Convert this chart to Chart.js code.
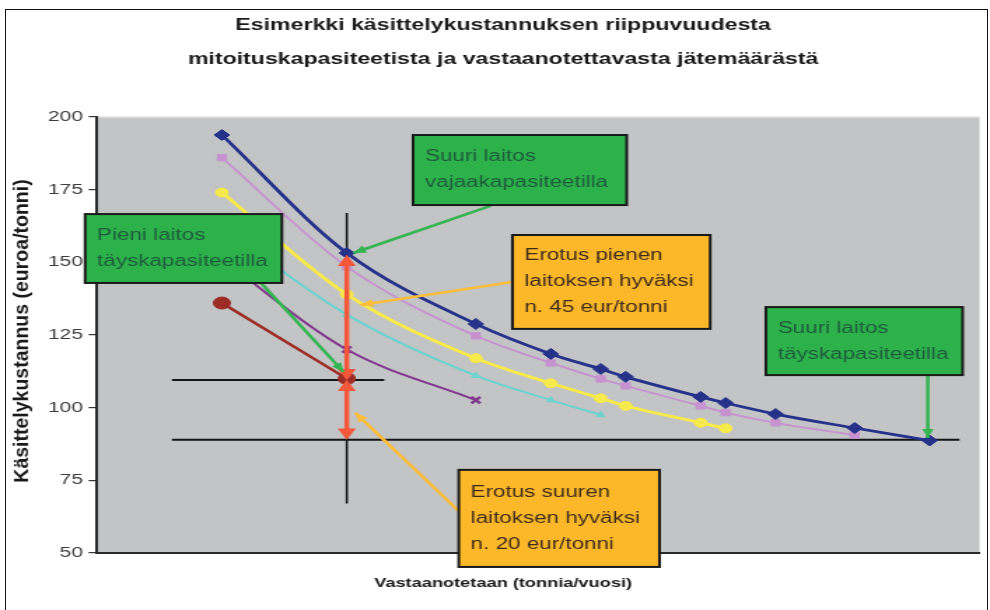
<!DOCTYPE html>
<html>
<head>
<meta charset="utf-8">
<script src="https://cdn.jsdelivr.net/npm/chart.js@4.4.1/dist/chart.umd.min.js"></script>
<style>
  html, body { margin: 0; padding: 0; background: #fff; overflow: hidden; }
  #kehys { position: absolute; left: 5px; top: 9px; width: 981px; height: 640px; border: 1px solid #111; }
  /* alkuperäinen kuva on venytetty vaakasuunnassa, joten piirretään kapeampi ja venytetään */
  #alue { position: absolute; left: 0; top: 0; width: 707px; height: 610px; transform: scaleX(1.4003); transform-origin: 0 0; }
</style>
</head>
<body>
<div id="kehys"></div>
<div id="alue"><canvas id="kaavio"></canvas></div>
<script>
//Data ---------------------------------------------------------------------
const otsikko = ['Esimerkki käsittelykustannuksen riippuvuudesta', 'mitoituskapasiteetista ja vastaanotettavasta jätemäärästä'];
const xOtsikko = 'Vastaanotetaan (tonnia/vuosi)';
const yOtsikko = 'Käsittelykustannus (euroa/tonni)';
const yTikit = [50, 75, 100, 125, 150, 175, 200];

const tonnit = [15000, 30000, 45500, 54500, 60500, 63500, 72500, 75500, 81500, 91000, 100000];
const suuri = [193.8, 153.2, 128.8, 118.5, 113.3, 110.6, 103.7, 101.6, 97.8, 93.0, 88.7];
const lila = [186, 148.5, 124.7, 115.4, 109.9, 107.5, 100.6, 98.3, 94.8, 90.6];
const keltainen = [174, 139, 117, 108.4, 103.2, 100.6, 94.8, 92.9];
const turkoosi = [162, 132, 111, 102.6, 97.5];
const violetti = [151, 120, 102.6];
const pieni = [136, 110];

// erotusnuolet kohdassa 30 000 t
const erotusX = 30000;
const erotus45 = [150, 112];
const erotus20 = [107, 91.5];

// mustat apuviivat
const ristiVaakaX = [9000, 34500];
const ristiVaakaY = 109.5;
const ristiPystyY = [67, 167];
const suuriTaysiX = [9000, 103600];
const suuriTaysiY = 89;
//--------------------------------------------------------------------------

const VENYTYS = 1.4003;
const fontti = 'Liberation Sans';
const vihrea = '#2db24b';
const oranssi = '#fdb82a';

// huomautuslaatikot (data-koordinaateissa), nuoli alkaa laatikosta ja osoittaa kohteeseen
const laatikot = [
  {rivit: ['Suuri laitos', 'vajaakapasiteetilla'], tausta: vihrea, teksti: '#1d5b3b', viiva: '#35b552',
   x1: 37960, x2: 63620, y1: 193.8, y2: 169.7, nuoli: [47270, 169.4, 30800, 153.2]},
  {rivit: ['Pieni laitos', 'täyskapasiteetilla'], tausta: vihrea, teksti: '#1d5b3b', viiva: '#35b552',
   x1: -1430, x2: 22200, y1: 166.6, y2: 142.9, nuoli: [19700, 142.9, 29600, 112.3]},
  {rivit: ['Erotus pienen', 'laitoksen hyväksi', 'n. 45 eur/tonni'], tausta: oranssi, teksti: '#3a2c1a', viiva: '#fbbd3c',
   x1: 49900, x2: 73650, y1: 159.4, y2: 127.1, nuoli: [49900, 143.2, 31630, 135.3]},
  {rivit: ['Suuri laitos', 'täyskapasiteetilla'], tausta: vihrea, teksti: '#1d5b3b', viiva: '#35b552',
   x1: 80340, x2: 103970, y1: 134.6, y2: 111.2, nuoli: [99790, 111.2, 99790, 89.6]},
  {rivit: ['Erotus suuren', 'laitoksen hyväksi', 'n. 20 eur/tonni'], tausta: oranssi, teksti: '#3a2c1a', viiva: '#fbbd3c',
   x1: 43450, x2: 67560, y1: 78.6, y2: 45.2, nuoli: [43570, 64.1, 31040, 98.2]}
];

const pisteet = (ys) => ys.map((y, i) => ({x: tonnit[i], y: y}));

function sarja(ys, vari, tyyli, koko, leveys, jarjestys) {
  return {
    data: pisteet(ys),
    borderColor: vari,
    backgroundColor: vari,
    borderWidth: leveys,
    pointStyle: tyyli,
    pointRadius: koko,
    pointBorderWidth: tyyli === 'crossRot' ? 2.5 : 1,
    cubicInterpolationMode: 'monotone',
    order: jarjestys
  };
}

function viiva(data, leveys) {
  return { data: data, borderColor: '#151515', borderWidth: leveys, pointRadius: 0, order: 20 };
}

function erotus(ys) {
  return {
    data: ys.map(y => ({x: erotusX, y: y})),
    borderColor: '#f4583b', backgroundColor: '#f4583b', borderWidth: 3.5,
    pointStyle: 'triangle', pointRadius: 4, pointRotation: [0, 180], order: 1
  };
}

// harmaa piirtoalue
const tausta = {
  id: 'tausta',
  beforeDraw(chart) {
    const {ctx, chartArea: a} = chart;
    ctx.save();
    ctx.fillStyle = '#c3c4c6';
    ctx.fillRect(a.left, a.top, a.right - a.left, a.bottom - a.top);
    ctx.strokeStyle = '#e2e2e2';
    ctx.lineWidth = 1.5;
    ctx.beginPath(); ctx.moveTo(a.left, a.top); ctx.lineTo(a.right, a.top); ctx.stroke();
    ctx.restore();
  }
};

function nuolenPaa(ctx, x1, y1, x2, y2, pituus, puoli) {
  const kulma = Math.atan2(y2 - y1, x2 - x1);
  ctx.beginPath();
  ctx.moveTo(x2, y2);
  ctx.lineTo(x2 - pituus * Math.cos(kulma) + puoli * Math.sin(kulma), y2 - pituus * Math.sin(kulma) - puoli * Math.cos(kulma));
  ctx.lineTo(x2 - pituus * Math.cos(kulma) - puoli * Math.sin(kulma), y2 - pituus * Math.sin(kulma) + puoli * Math.cos(kulma));
  ctx.closePath();
  ctx.fill();
}

// laatikot, nuolet ja pystyakselin otsikko
const huomautukset = {
  id: 'huomautukset',
  afterDraw(chart) {
    const ctx = chart.ctx;
    const sx = chart.scales.x, sy = chart.scales.y;
    ctx.save();
    laatikot.forEach(l => {
      const [ax, ay, bx, by] = l.nuoli;
      const x1 = sx.getPixelForValue(ax), y1 = sy.getPixelForValue(ay);
      const x2 = sx.getPixelForValue(bx), y2 = sy.getPixelForValue(by);
      ctx.strokeStyle = l.viiva; ctx.fillStyle = l.viiva; ctx.lineWidth = 2.6;
      ctx.beginPath(); ctx.moveTo(x1, y1); ctx.lineTo(x2, y2); ctx.stroke();
      nuolenPaa(ctx, x1, y1, x2, y2, 9, 4);
    });
    laatikot.forEach(l => {
      const vx = sx.getPixelForValue(l.x1), oy = sy.getPixelForValue(l.y1);
      const ox = sx.getPixelForValue(l.x2), ay = sy.getPixelForValue(l.y2);
      ctx.fillStyle = l.tausta;
      ctx.fillRect(vx, oy, ox - vx, ay - oy);
      ctx.strokeStyle = '#1a1a1a'; ctx.lineWidth = 2;
      ctx.strokeRect(vx, oy, ox - vx, ay - oy);
      ctx.fillStyle = l.teksti;
      ctx.font = '16px "' + fontti + '"';
      ctx.textAlign = 'left'; ctx.textBaseline = 'middle';
      const rivivali = 26;
      const keski = (oy + ay) / 2;
      l.rivit.forEach((r, i) => {
        ctx.fillText(r, vx + 8.5, keski + (i - (l.rivit.length - 1) / 2) * rivivali);
      });
    });
    // pystyakselin otsikko ilman vaakavenytystä
    ctx.translate(16.5, 331);
    ctx.scale(1 / VENYTYS, 1);
    ctx.rotate(-Math.PI / 2);
    ctx.font = 'bold 19.5px "' + fontti + '"';
    ctx.fillStyle = '#1a1a1a';
    ctx.textAlign = 'center'; ctx.textBaseline = 'middle';
    ctx.fillText(yOtsikko, 0, 0);
    ctx.restore();
  }
};

const ctx = document.getElementById('kaavio').getContext('2d');
const kaavio = new Chart(ctx, {
  type: 'line',
  data: {
    datasets: [
      viiva(ristiVaakaX.map(x => ({x: x, y: ristiVaakaY})), 2),
      viiva(ristiPystyY.map(y => ({x: erotusX, y: y})), 1.6),
      viiva(suuriTaysiX.map(x => ({x: x, y: suuriTaysiY})), 2),
      sarja(violetti, '#80398d', 'crossRot', 4.5, 2, 8),
      sarja(turkoosi, '#6dd3cf', 'triangle', 3.5, 2, 7),
      sarja(pieni, '#9c2c25', 'circle', 6, 2.5, 6),
      sarja(keltainen, '#f6ea4c', 'circle', 4.5, 3, 5),
      sarja(lila, '#c692cf', 'rect', 4.5, 1.8, 4),
      sarja(suuri, '#26328a', 'rectRot', 5.5, 2.8, 3),
      erotus(erotus45),
      erotus(erotus20)
    ]
  },
  options: {
    responsive: true,
    maintainAspectRatio: false,
    animation: false,
    layout: { padding: { left: 15, right: 3.4, top: 0, bottom: 0 } },
    plugins: {
      legend: { display: false },
      tooltip: { enabled: false },
      title: {
        display: true, text: otsikko, color: '#1a1a1a',
        font: { family: fontti, size: 16.5, weight: 'bold', lineHeight: 2.06 },
        padding: { top: 8.5, bottom: 40.5 }
      },
      subtitle: {
        display: true, position: 'bottom', text: xOtsikko, color: '#1a1a1a',
        font: { family: fontti, size: 13, weight: 'bold', lineHeight: 1.2 },
        padding: { top: 23, bottom: 18.4 }
      }
    },
    scales: {
      x: {
        type: 'linear', min: 0, max: 106000,
        ticks: { display: false },
        grid: { display: false, drawTicks: false },
        border: { color: '#2a2a2a', width: 2 }
      },
      y: {
        min: 50, max: 200,
        afterBuildTicks: s => { s.ticks = yTikit.map(v => ({value: v})); },
        afterFit: s => { s.width = 54.3; },
        ticks: { color: '#3d3d3d', font: { family: fontti, size: 15 }, padding: 4 },
        grid: { drawOnChartArea: false, drawTicks: true, tickLength: 6, color: '#333', lineWidth: 1.2 },
        border: { color: '#2a2a2a', width: 2 }
      }
    }
  },
  plugins: [tausta, huomautukset]
});
</script>
</body>
</html>
